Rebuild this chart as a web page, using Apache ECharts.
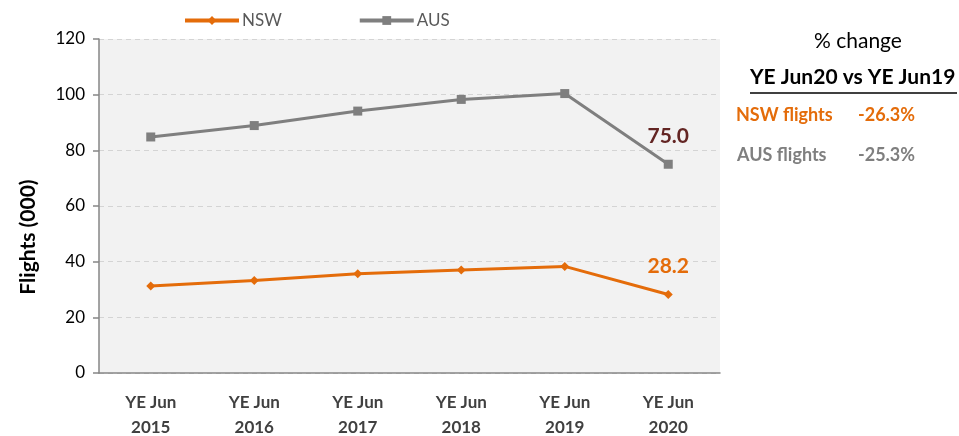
<!DOCTYPE html>
<html lang="en">
<head>
    <meta charset="UTF-8">
    <title>Flights</title>
    <style>
        body{ margin: 0; background: #fff; }
        #main{ width: 959px; height: 436px; }
    </style>
</head>
<body>
    <div id="main"></div>
    <script src="https://cdn.jsdelivr.net/npm/echarts@6/dist/echarts.min.js"></script>
    <script>
        // data
        var categories = ['YE Jun\n2015', 'YE Jun\n2016', 'YE Jun\n2017', 'YE Jun\n2018', 'YE Jun\n2019', 'YE Jun\n2020'];
        var nswFlights = [31.3, 33.2, 35.7, 37.0, 38.3, 28.2];
        var ausFlights = [84.8, 88.9, 94.1, 98.3, 100.4, 75.0];
        var changeLabels = ['NSW flights', 'AUS flights'];
        var changeValues = ['-26.3%', '-25.3%'];

        var orange = '#e46c0a';
        var grey = '#7f7f7f';
        var font = 'Lato';

        // label only on the last point
        function withLastLabel(values, color) {
            return values.map(function (v, i) {
                if (i !== values.length - 1) return v;
                return {
                    value: v,
                    label: {
                        show: true, position: 'top', distance: 13,
                        color: color, fontSize: 21, fontWeight: 'bold', fontFamily: font,
                        formatter: function (p) { return p.value.toFixed(1); }
                    }
                };
            });
        }

        var chart = echarts.init(document.getElementById('main'));
        var option = {
            animation: false,
            textStyle: { fontFamily: font },
            legend: {
                top: 7,
                left: 178,
                itemGap: 76,
                itemWidth: 54,
                itemHeight: 11,
                textStyle: { fontSize: 17, color: '#595959', fontFamily: font, padding: [0, 0, 0, -2] },
                lineStyle: { width: 4 },
                data: ['NSW', 'AUS']
            },
            grid: {
                left: 99, top: 39, right: 239, bottom: 63,
                outerBoundsMode: 'none',
                show: true, backgroundColor: '#f2f2f2', borderWidth: 0
            },
            xAxis: {
                type: 'category',
                data: categories,
                axisLine: { lineStyle: { color: '#868686', width: 1.5 } },
                axisTick: { length: 6, lineStyle: { color: '#868686', width: 1.5 } },
                axisLabel: { color: '#404040', fontSize: 17, fontWeight: 'bold', lineHeight: 25, margin: 17 }
            },
            yAxis: {
                type: 'value',
                min: 0, max: 120, interval: 20,
                axisLine: { show: true, lineStyle: { color: '#868686', width: 1.5 } },
                axisTick: { show: true, length: 6, lineStyle: { color: '#868686', width: 1.5 } },
                axisLabel: { color: '#000', fontSize: 17, margin: 14 },
                splitLine: { lineStyle: { color: '#d4d4d4', type: [5, 4], width: 1.2 } }
            },
            series: [
                {
                    name: 'NSW', type: 'line',
                    data: withLastLabel(nswFlights, orange),
                    symbol: 'diamond', symbolSize: 9,
                    lineStyle: { color: orange, width: 3 },
                    itemStyle: { color: orange }
                },
                {
                    name: 'AUS', type: 'line',
                    data: withLastLabel(ausFlights, '#632523'),
                    symbol: 'rect', symbolSize: 9,
                    lineStyle: { color: grey, width: 3 },
                    itemStyle: { color: grey }
                }
            ],
            graphic: [
                {
                    type: 'text', x: 28, y: 237, rotation: Math.PI / 2,
                    style: { text: 'Flights (000)', fontSize: 21, fontWeight: 'bold', fontFamily: font, fill: '#000', align: 'center', verticalAlign: 'middle' }
                },
                { type: 'text', left: 814, top: 31, style: { text: '% change', fontSize: 21, fontFamily: font, fill: '#000' } },
                { type: 'text', left: 750, top: 67, style: { text: 'YE Jun20 vs YE Jun19', fontSize: 21, fontWeight: 'bold', fontFamily: font, fill: '#000' } },
                { type: 'line', shape: { x1: 750, y1: 93, x2: 957, y2: 93 }, style: { stroke: '#000', lineWidth: 1.5 } },
                { type: 'text', left: 736, top: 106, style: { text: changeLabels[0], fontSize: 18, fontWeight: 'bold', fontFamily: font, fill: orange } },
                { type: 'text', left: 858, top: 106, style: { text: changeValues[0], fontSize: 18, fontWeight: 'bold', fontFamily: font, fill: orange } },
                { type: 'text', left: 737, top: 146, style: { text: changeLabels[1], fontSize: 18, fontWeight: 'bold', fontFamily: font, fill: grey } },
                { type: 'text', left: 858, top: 146, style: { text: changeValues[1], fontSize: 18, fontWeight: 'bold', fontFamily: font, fill: grey } }
            ]
        };
        chart.setOption(option);
    </script>
</body>
</html>
